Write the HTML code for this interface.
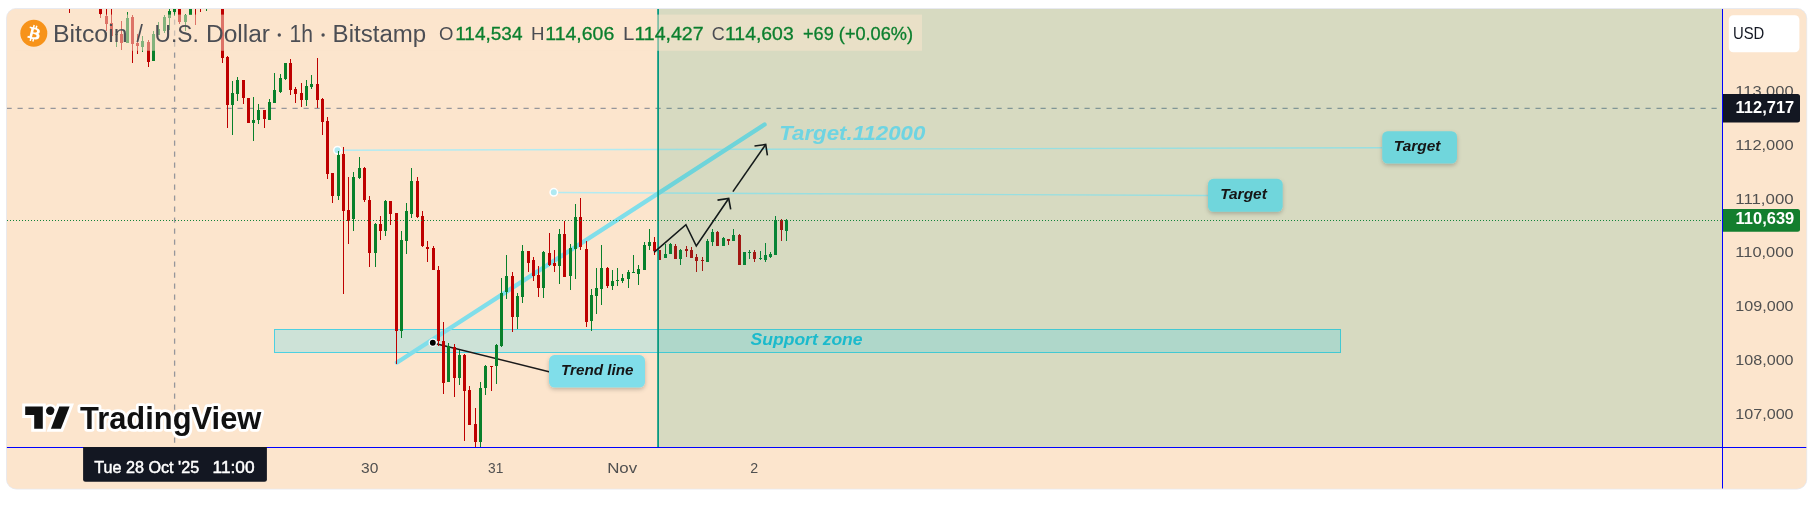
<!DOCTYPE html>
<html><head><meta charset="utf-8"><title>BTCUSD chart</title>
<style>
html,body{margin:0;padding:0;background:#fff;}
body{width:1819px;height:510px;overflow:hidden;}
svg{display:block;}
text{font-family:"Liberation Sans",sans-serif;}
</style></head>
<body>
<svg width="1819" height="510" viewBox="0 0 1819 510">
<defs>
<clipPath id="frame"><rect x="6.9" y="8.9" width="1799.4" height="479.7" rx="9.5" ry="9.5"/></clipPath>
<clipPath id="pane"><rect x="6.5" y="8.5" width="1715.5" height="438.5"/></clipPath>
<filter id="sh" x="-20%" y="-20%" width="140%" height="160%"><feDropShadow dx="0" dy="2" stdDeviation="2.2" flood-color="#000" flood-opacity="0.22"/></filter>
</defs>
<rect width="1819" height="510" fill="#ffffff"/>
<rect x="6.5" y="8.5" width="1800.2" height="480.5" rx="9.8" ry="9.8" fill="#fce5cd" stroke="#e8eaf0" stroke-width="1"/>
<g clip-path="url(#frame)" opacity="0.9999">
<rect x="0" y="0" width="1819" height="510" fill="#fce5cd"/>
<g clip-path="url(#pane)">
<!-- support zone -->
<rect x="274.5" y="329.5" width="1066" height="23" fill="rgba(22,214,255,0.2)" stroke="#4dd0e1" stroke-width="1"/>
<!-- target lines -->
<line x1="340" y1="150.2" x2="1382" y2="147.8" stroke="#b2ebf2" stroke-width="1.4"/>
<line x1="556" y1="192.5" x2="1208" y2="195.5" stroke="#b2ebf2" stroke-width="1.4"/>
<circle cx="337.5" cy="150.3" r="3.75" fill="#aee9f2" stroke="#ffffff" stroke-width="1.5"/>
<circle cx="553.8" cy="192.35" r="3.75" fill="#aee9f2" stroke="#ffffff" stroke-width="1.5"/>
<!-- crosshair -->
<line x1="6.5" y1="108.3" x2="1722" y2="108.3" stroke="#96969b" stroke-width="1.3" stroke-dasharray="5.2 5.8"/>
<line x1="174.6" y1="8.5" x2="174.6" y2="447" stroke="#96969b" stroke-width="1.3" stroke-dasharray="5.2 5.8"/>
<!-- thick trend line -->
<line x1="397" y1="362.5" x2="764.5" y2="124.5" stroke="#80deea" stroke-width="4.4" stroke-linecap="round"/>
<line x1="433" y1="343" x2="550" y2="372" stroke="#1a1a1a" stroke-width="1.5"/>
<rect x="69.0" y="0" width="1" height="13" fill="#be0000"/>
<rect x="68.0" y="0" width="3" height="2" fill="#be0000"/>
<rect x="100.0" y="0" width="1" height="18" fill="#be0000"/>
<rect x="99.0" y="0" width="3" height="14" fill="#be0000"/>
<rect x="106.0" y="0" width="1" height="31" fill="#be0000"/>
<rect x="105.0" y="16" width="3" height="8" fill="#be0000"/>
<rect x="111.0" y="0" width="1" height="36" fill="#be0000"/>
<rect x="110.0" y="23" width="3" height="13" fill="#be0000"/>
<rect x="116.0" y="34" width="1" height="13" fill="#08802a"/>
<rect x="115.0" y="34" width="3" height="1" fill="#08802a"/>
<rect x="121.0" y="21" width="1" height="29" fill="#be0000"/>
<rect x="120.0" y="34" width="3" height="9" fill="#be0000"/>
<rect x="127.0" y="12" width="1" height="31" fill="#08802a"/>
<rect x="126.0" y="18" width="3" height="25" fill="#08802a"/>
<rect x="132.0" y="15" width="1" height="48" fill="#be0000"/>
<rect x="131.0" y="17" width="3" height="27" fill="#be0000"/>
<rect x="137.0" y="34" width="1" height="20" fill="#be0000"/>
<rect x="136.0" y="43" width="3" height="3" fill="#be0000"/>
<rect x="142.0" y="36" width="1" height="16" fill="#08802a"/>
<rect x="141.0" y="41" width="3" height="6" fill="#08802a"/>
<rect x="148.0" y="40" width="1" height="27" fill="#be0000"/>
<rect x="147.0" y="42" width="3" height="20" fill="#be0000"/>
<rect x="153.0" y="31" width="1" height="30" fill="#08802a"/>
<rect x="152.0" y="34" width="3" height="27" fill="#08802a"/>
<rect x="158.0" y="22" width="1" height="13" fill="#08802a"/>
<rect x="157.0" y="29" width="3" height="6" fill="#08802a"/>
<rect x="164.0" y="15" width="1" height="18" fill="#08802a"/>
<rect x="163.0" y="17" width="3" height="14" fill="#08802a"/>
<rect x="169.0" y="9" width="1" height="21" fill="#08802a"/>
<rect x="168.0" y="11" width="3" height="7" fill="#08802a"/>
<rect x="174.0" y="0" width="1" height="16" fill="#08802a"/>
<rect x="173.0" y="0" width="3" height="12" fill="#08802a"/>
<rect x="179.0" y="0" width="1" height="24" fill="#be0000"/>
<rect x="178.0" y="0" width="3" height="22" fill="#be0000"/>
<rect x="185.0" y="14" width="1" height="17" fill="#08802a"/>
<rect x="184.0" y="15" width="3" height="7" fill="#08802a"/>
<rect x="190.0" y="0" width="1" height="15" fill="#08802a"/>
<rect x="189.0" y="0" width="3" height="15" fill="#08802a"/>
<rect x="195.0" y="0" width="1" height="25" fill="#be0000"/>
<rect x="194.0" y="0" width="3" height="2" fill="#be0000"/>
<rect x="200.0" y="0" width="1" height="12" fill="#be0000"/>
<rect x="199.0" y="0" width="3" height="2" fill="#be0000"/>
<rect x="206.0" y="0" width="1" height="11" fill="#08802a"/>
<rect x="205.0" y="0" width="3" height="2" fill="#08802a"/>
<rect x="222.0" y="0" width="1" height="63" fill="#be0000"/>
<rect x="221.0" y="0" width="3" height="58" fill="#be0000"/>
<rect x="227.0" y="56" width="1" height="72" fill="#be0000"/>
<rect x="226.0" y="57" width="3" height="48" fill="#be0000"/>
<rect x="232.0" y="81" width="1" height="54" fill="#08802a"/>
<rect x="231.0" y="93" width="3" height="12" fill="#08802a"/>
<rect x="237.0" y="77" width="1" height="24" fill="#08802a"/>
<rect x="236.0" y="80" width="3" height="14" fill="#08802a"/>
<rect x="243.0" y="80" width="1" height="24" fill="#be0000"/>
<rect x="242.0" y="80" width="3" height="18" fill="#be0000"/>
<rect x="248.0" y="98" width="1" height="25" fill="#be0000"/>
<rect x="247.0" y="98" width="3" height="25" fill="#be0000"/>
<rect x="253.0" y="97" width="1" height="44" fill="#08802a"/>
<rect x="252.0" y="120" width="3" height="3" fill="#08802a"/>
<rect x="258.0" y="104" width="1" height="20" fill="#08802a"/>
<rect x="257.0" y="110" width="3" height="10" fill="#08802a"/>
<rect x="264.0" y="110" width="1" height="18" fill="#be0000"/>
<rect x="263.0" y="110" width="3" height="9" fill="#be0000"/>
<rect x="269.0" y="99" width="1" height="21" fill="#08802a"/>
<rect x="268.0" y="102" width="3" height="18" fill="#08802a"/>
<rect x="274.0" y="73" width="1" height="30" fill="#08802a"/>
<rect x="273.0" y="90" width="3" height="13" fill="#08802a"/>
<rect x="280.0" y="74" width="1" height="19" fill="#08802a"/>
<rect x="279.0" y="78" width="3" height="14" fill="#08802a"/>
<rect x="285.0" y="63" width="1" height="17" fill="#08802a"/>
<rect x="284.0" y="63" width="3" height="16" fill="#08802a"/>
<rect x="290.0" y="59" width="1" height="36" fill="#be0000"/>
<rect x="289.0" y="63" width="3" height="27" fill="#be0000"/>
<rect x="295.0" y="87" width="1" height="16" fill="#be0000"/>
<rect x="294.0" y="89" width="3" height="5" fill="#be0000"/>
<rect x="301.0" y="83" width="1" height="24" fill="#be0000"/>
<rect x="300.0" y="93" width="3" height="7" fill="#be0000"/>
<rect x="306.0" y="80" width="1" height="26" fill="#08802a"/>
<rect x="305.0" y="86" width="3" height="14" fill="#08802a"/>
<rect x="311.0" y="75" width="1" height="14" fill="#08802a"/>
<rect x="310.0" y="84" width="3" height="3" fill="#08802a"/>
<rect x="317.0" y="58" width="1" height="50" fill="#be0000"/>
<rect x="316.0" y="84" width="3" height="16" fill="#be0000"/>
<rect x="322.0" y="98" width="1" height="37" fill="#be0000"/>
<rect x="321.0" y="99" width="3" height="23" fill="#be0000"/>
<rect x="327.0" y="117" width="1" height="62" fill="#be0000"/>
<rect x="326.0" y="121" width="3" height="53" fill="#be0000"/>
<rect x="332.0" y="173" width="1" height="30" fill="#be0000"/>
<rect x="331.0" y="173" width="3" height="23" fill="#be0000"/>
<rect x="338.0" y="151" width="1" height="49" fill="#08802a"/>
<rect x="337.0" y="155" width="3" height="41" fill="#08802a"/>
<rect x="343.0" y="147" width="1" height="147" fill="#be0000"/>
<rect x="342.0" y="154" width="3" height="57" fill="#be0000"/>
<rect x="348.0" y="177" width="1" height="67" fill="#be0000"/>
<rect x="347.0" y="210" width="3" height="11" fill="#be0000"/>
<rect x="353.0" y="172" width="1" height="59" fill="#08802a"/>
<rect x="352.0" y="177" width="3" height="42" fill="#08802a"/>
<rect x="359.0" y="157" width="1" height="22" fill="#08802a"/>
<rect x="358.0" y="168" width="3" height="10" fill="#08802a"/>
<rect x="364.0" y="167" width="1" height="35" fill="#be0000"/>
<rect x="363.0" y="168" width="3" height="32" fill="#be0000"/>
<rect x="369.0" y="196" width="1" height="71" fill="#be0000"/>
<rect x="368.0" y="200" width="3" height="53" fill="#be0000"/>
<rect x="375.0" y="223" width="1" height="44" fill="#08802a"/>
<rect x="374.0" y="224" width="3" height="29" fill="#08802a"/>
<rect x="380.0" y="216" width="1" height="24" fill="#be0000"/>
<rect x="379.0" y="224" width="3" height="7" fill="#be0000"/>
<rect x="385.0" y="200" width="1" height="36" fill="#08802a"/>
<rect x="384.0" y="201" width="3" height="30" fill="#08802a"/>
<rect x="390.0" y="201" width="1" height="24" fill="#be0000"/>
<rect x="389.0" y="201" width="3" height="13" fill="#be0000"/>
<rect x="396.0" y="213" width="1" height="151" fill="#be0000"/>
<rect x="395.0" y="213" width="3" height="118" fill="#be0000"/>
<rect x="401.0" y="231" width="1" height="107" fill="#08802a"/>
<rect x="400.0" y="240" width="3" height="91" fill="#08802a"/>
<rect x="406.0" y="203" width="1" height="51" fill="#08802a"/>
<rect x="405.0" y="211" width="3" height="30" fill="#08802a"/>
<rect x="411.0" y="168" width="1" height="50" fill="#08802a"/>
<rect x="410.0" y="181" width="3" height="33" fill="#08802a"/>
<rect x="417.0" y="177" width="1" height="41" fill="#be0000"/>
<rect x="416.0" y="181" width="3" height="36" fill="#be0000"/>
<rect x="422.0" y="211" width="1" height="36" fill="#be0000"/>
<rect x="421.0" y="216" width="3" height="30" fill="#be0000"/>
<rect x="427.0" y="241" width="1" height="21" fill="#be0000"/>
<rect x="426.0" y="247" width="3" height="2" fill="#be0000"/>
<rect x="433.0" y="246" width="1" height="24" fill="#be0000"/>
<rect x="432.0" y="248" width="3" height="22" fill="#be0000"/>
<rect x="438.0" y="266" width="1" height="80" fill="#be0000"/>
<rect x="437.0" y="270" width="3" height="71" fill="#be0000"/>
<rect x="443.0" y="322" width="1" height="72" fill="#be0000"/>
<rect x="442.0" y="341" width="3" height="42" fill="#be0000"/>
<rect x="448.0" y="343" width="1" height="39" fill="#08802a"/>
<rect x="447.0" y="346" width="3" height="36" fill="#08802a"/>
<rect x="454.0" y="344" width="1" height="53" fill="#be0000"/>
<rect x="453.0" y="347" width="3" height="31" fill="#be0000"/>
<rect x="459.0" y="350" width="1" height="35" fill="#08802a"/>
<rect x="458.0" y="355" width="3" height="23" fill="#08802a"/>
<rect x="464.0" y="354" width="1" height="87" fill="#be0000"/>
<rect x="463.0" y="355" width="3" height="36" fill="#be0000"/>
<rect x="469.0" y="386" width="1" height="39" fill="#be0000"/>
<rect x="468.0" y="390" width="3" height="35" fill="#be0000"/>
<rect x="475.0" y="408" width="1" height="39" fill="#be0000"/>
<rect x="474.0" y="424" width="3" height="18" fill="#be0000"/>
<rect x="480.0" y="382" width="1" height="65" fill="#08802a"/>
<rect x="479.0" y="388" width="3" height="54" fill="#08802a"/>
<rect x="485.0" y="365" width="1" height="30" fill="#08802a"/>
<rect x="484.0" y="366" width="3" height="22" fill="#08802a"/>
<rect x="491.0" y="366" width="1" height="25" fill="#be0000"/>
<rect x="490.0" y="366" width="3" height="1" fill="#be0000"/>
<rect x="496.0" y="344" width="1" height="40" fill="#08802a"/>
<rect x="495.0" y="345" width="3" height="21" fill="#08802a"/>
<rect x="501.0" y="278" width="1" height="69" fill="#08802a"/>
<rect x="500.0" y="293" width="3" height="53" fill="#08802a"/>
<rect x="506.0" y="255" width="1" height="44" fill="#08802a"/>
<rect x="505.0" y="276" width="3" height="16" fill="#08802a"/>
<rect x="512.0" y="272" width="1" height="60" fill="#be0000"/>
<rect x="511.0" y="276" width="3" height="41" fill="#be0000"/>
<rect x="517.0" y="293" width="1" height="36" fill="#08802a"/>
<rect x="516.0" y="296" width="3" height="21" fill="#08802a"/>
<rect x="522.0" y="245" width="1" height="58" fill="#08802a"/>
<rect x="521.0" y="251" width="3" height="46" fill="#08802a"/>
<rect x="528.0" y="251" width="1" height="21" fill="#be0000"/>
<rect x="527.0" y="251" width="3" height="12" fill="#be0000"/>
<rect x="533.0" y="257" width="1" height="24" fill="#be0000"/>
<rect x="532.0" y="260" width="3" height="16" fill="#be0000"/>
<rect x="538.0" y="266" width="1" height="31" fill="#be0000"/>
<rect x="537.0" y="275" width="3" height="13" fill="#be0000"/>
<rect x="543.0" y="251" width="1" height="47" fill="#08802a"/>
<rect x="542.0" y="252" width="3" height="36" fill="#08802a"/>
<rect x="549.0" y="233" width="1" height="33" fill="#be0000"/>
<rect x="548.0" y="253" width="3" height="12" fill="#be0000"/>
<rect x="554.0" y="250" width="1" height="22" fill="#be0000"/>
<rect x="553.0" y="263" width="3" height="3" fill="#be0000"/>
<rect x="559.0" y="229" width="1" height="55" fill="#08802a"/>
<rect x="558.0" y="234" width="3" height="32" fill="#08802a"/>
<rect x="564.0" y="221" width="1" height="56" fill="#be0000"/>
<rect x="563.0" y="234" width="3" height="43" fill="#be0000"/>
<rect x="570.0" y="244" width="1" height="46" fill="#08802a"/>
<rect x="569.0" y="248" width="3" height="28" fill="#08802a"/>
<rect x="575.0" y="204" width="1" height="75" fill="#08802a"/>
<rect x="574.0" y="217" width="3" height="32" fill="#08802a"/>
<rect x="580.0" y="198" width="1" height="52" fill="#be0000"/>
<rect x="579.0" y="217" width="3" height="30" fill="#be0000"/>
<rect x="586.0" y="241" width="1" height="86" fill="#be0000"/>
<rect x="585.0" y="249" width="3" height="73" fill="#be0000"/>
<rect x="591.0" y="289" width="1" height="42" fill="#08802a"/>
<rect x="590.0" y="295" width="3" height="26" fill="#08802a"/>
<rect x="596.0" y="268" width="1" height="46" fill="#08802a"/>
<rect x="595.0" y="288" width="3" height="8" fill="#08802a"/>
<rect x="601.0" y="245" width="1" height="60" fill="#08802a"/>
<rect x="600.0" y="268" width="3" height="21" fill="#08802a"/>
<rect x="607.0" y="267" width="1" height="21" fill="#be0000"/>
<rect x="606.0" y="268" width="3" height="18" fill="#be0000"/>
<rect x="612.0" y="270" width="1" height="20" fill="#08802a"/>
<rect x="611.0" y="281" width="3" height="5" fill="#08802a"/>
<rect x="617.0" y="268" width="1" height="18" fill="#08802a"/>
<rect x="616.0" y="280" width="3" height="1" fill="#08802a"/>
<rect x="622.0" y="274" width="1" height="9" fill="#08802a"/>
<rect x="621.0" y="278" width="3" height="3" fill="#08802a"/>
<rect x="628.0" y="270" width="1" height="18" fill="#08802a"/>
<rect x="627.0" y="272" width="3" height="7" fill="#08802a"/>
<rect x="633.0" y="255" width="1" height="18" fill="#08802a"/>
<rect x="632.0" y="272" width="3" height="1" fill="#08802a"/>
<rect x="638.0" y="265" width="1" height="20" fill="#08802a"/>
<rect x="637.0" y="269" width="3" height="5" fill="#08802a"/>
<rect x="644.0" y="242" width="1" height="28" fill="#08802a"/>
<rect x="643.0" y="245" width="3" height="25" fill="#08802a"/>
<rect x="649.0" y="229" width="1" height="21" fill="#08802a"/>
<rect x="648.0" y="242" width="3" height="4" fill="#08802a"/>
<rect x="654.0" y="237" width="1" height="18" fill="#be0000"/>
<rect x="653.0" y="242" width="3" height="9" fill="#be0000"/>
<rect x="659.0" y="250" width="1" height="10" fill="#be0000"/>
<rect x="658.0" y="250" width="3" height="10" fill="#be0000"/>
<rect x="665.0" y="244" width="1" height="14" fill="#08802a"/>
<rect x="664.0" y="254" width="3" height="4" fill="#08802a"/>
<rect x="670.0" y="243" width="1" height="11" fill="#08802a"/>
<rect x="669.0" y="244" width="3" height="10" fill="#08802a"/>
<rect x="675.0" y="244" width="1" height="15" fill="#be0000"/>
<rect x="674.0" y="246" width="3" height="13" fill="#be0000"/>
<rect x="680.0" y="249" width="1" height="16" fill="#08802a"/>
<rect x="679.0" y="250" width="3" height="9" fill="#08802a"/>
<rect x="686.0" y="246" width="1" height="11" fill="#be0000"/>
<rect x="685.0" y="249" width="3" height="2" fill="#be0000"/>
<rect x="691.0" y="247" width="1" height="11" fill="#be0000"/>
<rect x="690.0" y="250" width="3" height="8" fill="#be0000"/>
<rect x="696.0" y="254" width="1" height="18" fill="#be0000"/>
<rect x="695.0" y="257" width="3" height="4" fill="#be0000"/>
<rect x="702.0" y="257" width="1" height="14" fill="#be0000"/>
<rect x="701.0" y="260" width="3" height="1" fill="#be0000"/>
<rect x="707.0" y="239" width="1" height="23" fill="#08802a"/>
<rect x="706.0" y="241" width="3" height="21" fill="#08802a"/>
<rect x="712.0" y="229" width="1" height="17" fill="#08802a"/>
<rect x="711.0" y="232" width="3" height="10" fill="#08802a"/>
<rect x="717.0" y="231" width="1" height="15" fill="#be0000"/>
<rect x="716.0" y="232" width="3" height="14" fill="#be0000"/>
<rect x="723.0" y="237" width="1" height="9" fill="#08802a"/>
<rect x="722.0" y="238" width="3" height="8" fill="#08802a"/>
<rect x="728.0" y="239" width="1" height="6" fill="#be0000"/>
<rect x="727.0" y="239" width="3" height="2" fill="#be0000"/>
<rect x="733.0" y="229" width="1" height="12" fill="#08802a"/>
<rect x="732.0" y="235" width="3" height="6" fill="#08802a"/>
<rect x="739.0" y="234" width="1" height="31" fill="#be0000"/>
<rect x="738.0" y="235" width="3" height="30" fill="#be0000"/>
<rect x="744.0" y="252" width="1" height="13" fill="#08802a"/>
<rect x="743.0" y="252" width="3" height="13" fill="#08802a"/>
<rect x="749.0" y="250" width="1" height="9" fill="#08802a"/>
<rect x="748.0" y="252" width="3" height="1" fill="#08802a"/>
<rect x="754.0" y="250" width="1" height="12" fill="#be0000"/>
<rect x="753.0" y="252" width="3" height="7" fill="#be0000"/>
<rect x="760.0" y="251" width="1" height="9" fill="#08802a"/>
<rect x="759.0" y="258" width="3" height="1" fill="#08802a"/>
<rect x="765.0" y="243" width="1" height="19" fill="#08802a"/>
<rect x="764.0" y="255" width="3" height="5" fill="#08802a"/>
<rect x="770.0" y="252" width="1" height="6" fill="#08802a"/>
<rect x="769.0" y="254" width="3" height="3" fill="#08802a"/>
<rect x="775.0" y="216" width="1" height="39" fill="#08802a"/>
<rect x="774.0" y="220" width="3" height="35" fill="#08802a"/>
<rect x="781.0" y="219" width="1" height="22" fill="#be0000"/>
<rect x="780.0" y="220" width="3" height="10" fill="#be0000"/>
<rect x="786.0" y="219" width="1" height="22" fill="#08802a"/>
<rect x="785.0" y="220" width="3" height="11" fill="#08802a"/>
<text x="750.6" y="345.2" font-size="17" font-weight="bold" font-style="italic" fill="#1fc0da" textLength="112" lengthAdjust="spacingAndGlyphs">Support zone</text>
<!-- green zone overlay -->
<rect x="658.4" y="0" width="1070" height="447" fill="rgba(8,153,129,0.15)"/>
<rect x="657.2" y="0" width="1.8" height="447" fill="#089981"/>
<!-- last price dotted line -->
<line x1="7" y1="220.5" x2="1722" y2="220.5" stroke="#10833a" stroke-width="1" stroke-dasharray="1 2" shape-rendering="crispEdges"/>
<!-- anchor circles -->
<!-- trend callout -->
<circle cx="432.8" cy="342.8" r="3.6" fill="#000" stroke="#fff" stroke-width="1.3"/>
<rect x="549" y="355.1" width="96" height="32.5" rx="5.5" fill="#80deea" filter="url(#sh)"/>
<text x="561" y="375.3" font-size="14" font-weight="bold" font-style="italic" fill="#161616" textLength="72.6" lengthAdjust="spacingAndGlyphs">Trend line</text>
<!-- target callouts -->
<rect x="1382.2" y="131.2" width="74.8" height="32.3" rx="5.5" fill="#70d6dc" filter="url(#sh)"/>
<text x="1393.8" y="151.4" font-size="14" font-weight="bold" font-style="italic" fill="#161616" textLength="46.6" lengthAdjust="spacingAndGlyphs">Target</text>
<rect x="1208" y="178.8" width="74.7" height="33" rx="5.5" fill="#70d6dc" filter="url(#sh)"/>
<text x="1220.2" y="199.4" font-size="14" font-weight="bold" font-style="italic" fill="#161616" textLength="46.6" lengthAdjust="spacingAndGlyphs">Target</text>
<!-- labels -->
<text x="779.3" y="139.6" font-size="20" font-weight="bold" font-style="italic" fill="#6ed4e2" textLength="146" lengthAdjust="spacingAndGlyphs">Target.112000</text>

<!-- arrows -->
<path d="M654 252.4 L685.9 224.7 L696.3 246 L728.7 198.5" fill="none" stroke="#141a1a" stroke-width="1.6" stroke-linejoin="miter"/>
<path d="M717.5 200.1 L728.7 198.5 L730.7 209.3" fill="none" stroke="#141a1a" stroke-width="1.6"/>
<path d="M732.9 191.6 L765.7 144.5" fill="none" stroke="#141a1a" stroke-width="1.6"/>
<path d="M754.5 146 L765.7 144.5 L767.4 155.4" fill="none" stroke="#141a1a" stroke-width="1.6"/>
<!-- legend overlay -->
<rect x="15" y="14.6" width="907" height="36.2" fill="rgba(252,229,205,0.5)"/>
</g>
<!-- legend -->
<circle cx="33.8" cy="33.3" r="13.5" fill="#f7931a"/>
<path transform="translate(20.3 19.8) scale(0.84375)" fill="#fff" d="M23.189 14.02c.314-2.096-1.283-3.223-3.465-3.975l.708-2.84-1.728-.43-.69 2.765c-.454-.114-.92-.22-1.385-.326l.695-2.783L15.596 6l-.708 2.839c-.376-.086-.746-.17-1.104-.26l.002-.009-2.384-.595-.46 1.846s1.283.294 1.256.312c.7.175.826.638.805 1.006l-.806 3.235c.048.012.11.03.18.057l-.183-.045-1.13 4.532c-.086.212-.303.531-.793.41.018.025-1.256-.313-1.256-.313l-.858 1.978 2.25.561c.418.105.828.215 1.231.318l-.715 2.872 1.727.43.708-2.84c.472.127.93.245 1.378.357l-.706 2.828 1.728.43.715-2.866c2.948.558 5.164.333 6.097-2.333.752-2.146-.037-3.385-1.588-4.192 1.13-.26 1.98-1.003 2.207-2.538zm-3.95 5.538c-.533 2.147-4.148.986-5.32.695l.95-3.805c1.172.293 4.929.872 4.37 3.11zm.535-5.569c-.487 1.953-3.495.96-4.47.717l.86-3.45c.975.243 4.118.696 3.61 2.733z"/>
<text y="41.7" font-size="23" fill="#4c4e54">
<tspan x="52.9" textLength="74.6" lengthAdjust="spacingAndGlyphs">Bitcoin</tspan>
<tspan x="136.4" textLength="6.4" lengthAdjust="spacingAndGlyphs">/</tspan>
<tspan x="154.5" textLength="44.2" lengthAdjust="spacingAndGlyphs">U.S.</tspan>
<tspan x="206" textLength="64" lengthAdjust="spacingAndGlyphs">Dollar</tspan>
<tspan x="289.5" textLength="23.5" lengthAdjust="spacingAndGlyphs">1h</tspan>
<tspan x="332.6" textLength="93.6" lengthAdjust="spacingAndGlyphs">Bitstamp</tspan>
</text>
<circle cx="279.3" cy="35" r="1.7" fill="#4c4e54"/><circle cx="323.1" cy="35" r="1.7" fill="#4c4e54"/>
<text y="39.9" font-size="18.5" fill="#4a4c52">
<tspan x="438.9" textLength="14.4" lengthAdjust="spacingAndGlyphs">O</tspan>
<tspan x="531" textLength="13.5" lengthAdjust="spacingAndGlyphs">H</tspan>
<tspan x="623" textLength="10.6" lengthAdjust="spacingAndGlyphs">L</tspan>
<tspan x="711.7" textLength="13" lengthAdjust="spacingAndGlyphs">C</tspan>
</text>
<text y="39.9" font-size="18.5" fill="#0b7f2e" stroke="#0b7f2e" stroke-width="0.3">
<tspan x="455.2" textLength="67.3" lengthAdjust="spacingAndGlyphs">114,534</tspan>
<tspan x="545.3" textLength="69" lengthAdjust="spacingAndGlyphs">114,606</tspan>
<tspan x="634.4" textLength="69.2" lengthAdjust="spacingAndGlyphs">114,427</tspan>
<tspan x="725" textLength="68.7" lengthAdjust="spacingAndGlyphs">114,603</tspan>
<tspan x="803" textLength="110" lengthAdjust="spacingAndGlyphs">+69 (+0.06%)</tspan>
</text>
<!-- TradingView logo -->
<g stroke="#fff" stroke-width="6" stroke-linejoin="miter" paint-order="stroke" fill="#111">
<path d="M25.2 406.5 H42.8 V428.7 H34.2 V414.9 H25.2 Z"/>
<circle cx="50.3" cy="410.8" r="4.3" stroke-width="5"/>
<path d="M59.3 406.5 H69.6 L60.9 428.7 H50.9 Z"/>
<text x="80" y="428.8" font-size="31" font-weight="bold" stroke-linejoin="round" stroke-width="5.6" textLength="181.4" lengthAdjust="spacingAndGlyphs">TradingView</text>
</g>
<!-- axes -->
<rect x="1722" y="8" width="1" height="481" fill="#0000ff"/>
<rect x="6" y="447" width="1801" height="1" fill="#0000ff"/>
<!-- price labels -->
<g font-size="15" fill="#505050">
<text x="1735.3" y="95.9" textLength="58.3" lengthAdjust="spacingAndGlyphs">113,000</text>
<text x="1735.3" y="149.7" textLength="58.3" lengthAdjust="spacingAndGlyphs">112,000</text>
<text x="1735.3" y="203.5" textLength="58.3" lengthAdjust="spacingAndGlyphs">111,000</text>
<text x="1735.3" y="257.3" textLength="58.3" lengthAdjust="spacingAndGlyphs">110,000</text>
<text x="1735.3" y="311.1" textLength="58.3" lengthAdjust="spacingAndGlyphs">109,000</text>
<text x="1735.3" y="364.8" textLength="58.3" lengthAdjust="spacingAndGlyphs">108,000</text>
<text x="1735.3" y="418.6" textLength="58.3" lengthAdjust="spacingAndGlyphs">107,000</text>
</g>
<path d="M1723 94.1 H1797.5 Q1800 94.1 1800 96.6 V120.1 Q1800 122.6 1797.5 122.6 H1723 Z" fill="#131722"/>
<text x="1735.6" y="112.6" font-size="16.2" font-weight="bold" fill="#fff" textLength="58.6" lengthAdjust="spacingAndGlyphs">112,717</text>
<path d="M1723 209 H1797.5 Q1800 209 1800 211.5 V229.2 Q1800 231.7 1797.5 231.7 H1723 Z" fill="#137e2e"/>
<text x="1735.6" y="224.4" font-size="16.2" font-weight="bold" fill="#fff" textLength="58.6" lengthAdjust="spacingAndGlyphs">110,639</text>
<!-- USD -->
<rect x="1728.8" y="15.3" width="70.6" height="37" rx="4.5" fill="#ffffff"/>
<text x="1732.9" y="39.4" font-size="17" fill="#131722" textLength="31.4" lengthAdjust="spacingAndGlyphs">USD</text>
<!-- time labels -->
<g font-size="15.5" fill="#505050">
<text x="361" y="472.7" textLength="17.3" lengthAdjust="spacingAndGlyphs">30</text>
<text x="488" y="472.7" textLength="15.3" lengthAdjust="spacingAndGlyphs">31</text>
<text x="607.2" y="472.7" textLength="30" lengthAdjust="spacingAndGlyphs">Nov</text>
<text x="750.2" y="472.7" textLength="7.9" lengthAdjust="spacingAndGlyphs">2</text>
</g>
<path d="M83.1 447 H266.9 V479.2 Q266.9 481.7 264.4 481.7 H85.6 Q83.1 481.7 83.1 479.2 Z" fill="#131722"/>
<text y="472.7" font-size="16.5" fill="#fff" stroke="#fff" stroke-width="0.45">
<tspan x="94.2" textLength="105" lengthAdjust="spacingAndGlyphs">Tue 28 Oct '25</tspan>
<tspan x="212.6" textLength="42" lengthAdjust="spacingAndGlyphs">11:00</tspan>
</text>
</g>
</svg>
</body></html>
